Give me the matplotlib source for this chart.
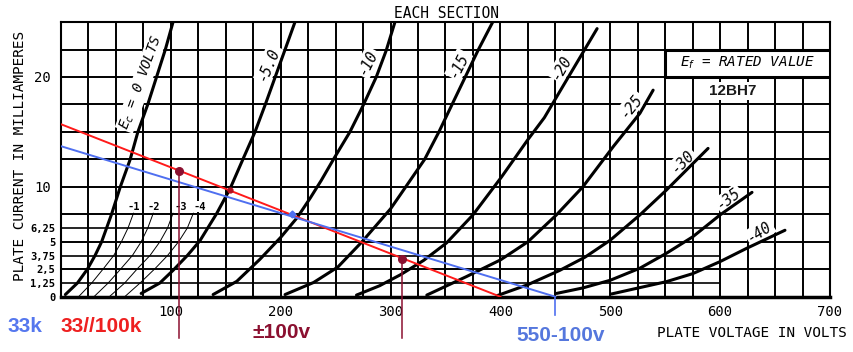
import matplotlib.pyplot as plt
from matplotlib.patches import Rectangle

plt.rcParams['font.family'] = ['DejaVu Sans Mono', 'DejaVu Sans']

# ---- plate curves (plate volts, plate mA) ----
ec0_v = [4, 15, 24, 31, 37, 46, 54, 63, 70, 79, 87, 95, 102]
ec0_i = [0.2, 1.25, 2.5, 3.75, 5, 7.5, 10, 12.5, 15, 17.5, 20, 22.5, 25]
ec5_v = [73, 90, 102, 115, 126.5, 141.7, 154, 166, 176.6, 186, 195, 204, 213]
ec5_i = [0.3, 1.25, 2.4, 3.75, 5.1, 7.57, 9.85, 12.6, 15, 17.5, 20, 22.5, 25]
ec10_v = [138.5, 160, 181, 200, 215, 227, 237, 248, 263, 275, 287, 296, 304]
ec10_i = [0.2, 1.4, 3.4, 5.4, 7.2, 9.0, 10.6, 12.5, 15, 17.4, 20, 22.4, 25]
ec15_v = [204, 230, 252, 274, 300, 309, 320, 331, 344, 356, 368, 380, 393]
ec15_i = [0.2, 1.3, 2.7, 5.0, 8.0, 9.3, 10.9, 12.5, 15, 17.5, 20, 22.5, 25]
ec20_v = [269, 290, 309, 330, 351, 375, 401, 425, 440, 453, 469, 488]
ec20_i = [0.15, 1.0, 2.0, 3.3, 4.9, 7.45, 10.9, 14.3, 16.3, 18.5, 21.2, 24.4]
ec25_v = [333, 369, 400, 425, 451, 475, 503, 527, 539]
ec25_i = [0.15, 1.83, 3.35, 5.0, 7.45, 10.0, 13.7, 16.7, 18.8]
ec30_v = [397, 425, 454, 477, 500, 527, 551, 572, 589]
ec30_i = [0.1, 1.1, 2.4, 3.6, 5.15, 7.45, 9.7, 11.8, 13.5]
ec35_v = [451, 475, 500, 527, 551, 575, 600, 629]
ec35_i = [0.3, 0.8, 1.5, 2.6, 3.95, 5.45, 7.45, 9.5]
ec40_v = [501, 551, 575, 600, 624, 659]
ec40_i = [0.25, 1.37, 2.1, 3.2, 4.4, 6.05]

# thin low-bias curves
ec1_v = [16, 28, 39, 48, 55, 61, 66]
ec2_v = [30, 43, 55, 65, 73, 79, 84]
ec3_v = [44, 58, 70, 81, 90, 97, 102]
ec4_v = [58, 72, 86, 97, 107, 115, 120.5]
thin_i = [0, 1.25, 2.6, 3.75, 5, 6.25, 7.6]

# curve labels: text, volts, mA, angle
curve_labels = ["-5.0", "-10", "-15", "-20", "-25", "-30", "-35", "-40"]
curve_label_v = [189, 279, 362, 456, 519, 566, 608, 636]
curve_label_i = [21.2, 21.3, 21.1, 20.9, 17.4, 12.3, 8.9, 5.9]
curve_label_rot = [67, 63, 63, 60, 51, 45, 37, 33]
thin_labels = ["-1", "-2", "-3", "-4"]
thin_label_v = [66, 84, 109, 126]

# load lines
red_v = [0, 400]
red_i = [15.7, 0]
blue_v = [0, 450]
blue_i = [13.7, 0]
swing_v = [107, 310]
swing_i = [11.4, 3.45]

# axis ticks / grid
xgrid = list(range(0, 701, 25))
ygrid = [2.5 * k for k in range(11)]
yminor = [1.25, 3.75, 6.25]
xtick_vals = [100, 200, 300, 400, 500, 600, 700]
ytick_vals = [0, 1.25, 2.5, 3.75, 5, 6.25, 10, 20]
ytick_labels = ["0", "1,25", "2,5", "3,75", "5", "6,25", "10", "20"]

fig = plt.figure(figsize=(8.54, 3.52), dpi=100)
ax = fig.add_axes([0.0714, 0.157, 0.9005, 0.7804])
ax.set_xlim(0, 700)
ax.set_ylim(0, 25)

ax.vlines(xgrid, 0, 25, color='black', lw=1.4, zorder=1)
ax.hlines(ygrid, 0, 700, color='black', lw=1.4, zorder=1)
ax.hlines(yminor, 0, 600, color='black', lw=1.2, zorder=1)

for s in ax.spines.values():
    s.set_linewidth(1.5)
ax.spines['bottom'].set_linewidth(2.5)

ax.set_xticks(xtick_vals, [str(v) for v in xtick_vals])
ax.set_yticks(ytick_vals, ytick_labels)
ax.tick_params(axis='x', length=0, pad=6, labelsize=10)
ax.tick_params(axis='y', length=0, pad=4, labelsize=7.5)
for lab in ax.get_yticklabels():
    if lab.get_text() in ("10", "20"):
        lab.set_fontsize(10)
        lab.set_x(-0.006)
    else:
        lab.set_fontweight('bold')

curves = [(ec0_v, ec0_i), (ec5_v, ec5_i), (ec10_v, ec10_i), (ec15_v, ec15_i),
          (ec20_v, ec20_i), (ec25_v, ec25_i), (ec30_v, ec30_i),
          (ec35_v, ec35_i), (ec40_v, ec40_i)]
for cv, ci in curves:
    ax.plot(cv, ci, color='black', lw=2.2, solid_capstyle='round', zorder=2)
for tv in [ec1_v, ec2_v, ec3_v, ec4_v]:
    ax.plot(tv, thin_i, color='black', lw=0.7, zorder=2)

# labels sit beside the curves and knock out the grid behind them
box = dict(fc='white', ec='none', pad=1.0)
ax.text(73, 19.5, "E$_c$ = 0 VOLTS", rotation=70, ha='center', va='center',
        rotation_mode='anchor', style='italic', fontsize=10, bbox=box, zorder=1.5)
for t, v, i, r in zip(curve_labels, curve_label_v, curve_label_i, curve_label_rot):
    ax.text(v, i, t, rotation=r, ha='center', va='center', rotation_mode='anchor',
            style='italic', fontsize=10.5, bbox=box, zorder=1.5)
for t, v in zip(thin_labels, thin_label_v):
    ax.text(v, 8.2, t, ha='center', va='center', fontsize=7.5, fontweight='bold',
            bbox=dict(fc='white', ec='none', pad=0.3), zorder=3)

ax.add_patch(Rectangle((550, 20), 150, 2.5, fc='white', ec='black', lw=2.2, zorder=3))
ax.text(625, 21.25, "E$_f$ = RATED VALUE", ha='center', va='center',
        style='italic', fontsize=10.3, zorder=4)
ax.text(611, 18.75, "12BH7", ha='center', va='center', family='Liberation Sans',
        fontweight='bold', fontsize=11, color='#1a1a1a',
        bbox=dict(fc='white', ec='none', pad=1.5), zorder=3)

# load lines and swing points
ax.plot(red_v, red_i, color='#ff1a1a', lw=1.4, zorder=5)
ax.plot(blue_v, blue_i, color='#4f6ff0', lw=1.4, zorder=5)
ax.plot([450, 450], [0, -1.7], color='#4f6ff0', lw=1.2, clip_on=False, zorder=5)
for v, i in zip(swing_v, swing_i):
    ax.plot([v, v], [i, -3.8], color='#8b1030', lw=1.1, clip_on=False, zorder=6)
ax.plot(swing_v, swing_i, 'o', color='#8b1030', ms=5.5, zorder=7)
ax.plot([154], [9.7], 'o', color='#b01020', ms=3.5, zorder=7)
ax.plot([210], [7.5], 'D', color='#4f6ff0', ms=3.5, zorder=7)

fig.text(0.523, 0.963, "EACH SECTION", ha='center', va='center', fontsize=10.5)
fig.text(0.023, 0.558, "PLATE CURRENT IN MILLIAMPERES", rotation=90,
         ha='center', va='center', fontsize=10.4)
fig.text(0.992, 0.054, "PLATE VOLTAGE IN VOLTS", ha='right', va='center', fontsize=10.4)

fig.text(0.009, 0.057, "33k", color='#5577ee', family='Liberation Sans',
         fontweight='bold', fontsize=15, va='baseline')
fig.text(0.071, 0.057, "33//100k", color='#ee2020', family='Liberation Sans',
         fontweight='bold', fontsize=15, va='baseline')
fig.text(0.296, 0.040, "±100v", color='#8b1030', family='Liberation Sans',
         fontweight='bold', fontsize=15, va='baseline')
fig.text(0.605, 0.031, "550-100v", color='#5577dd', family='Liberation Sans',
         fontweight='bold', fontsize=15, va='baseline')

fig.savefig("out.png", dpi=100)
plt.close(fig)
